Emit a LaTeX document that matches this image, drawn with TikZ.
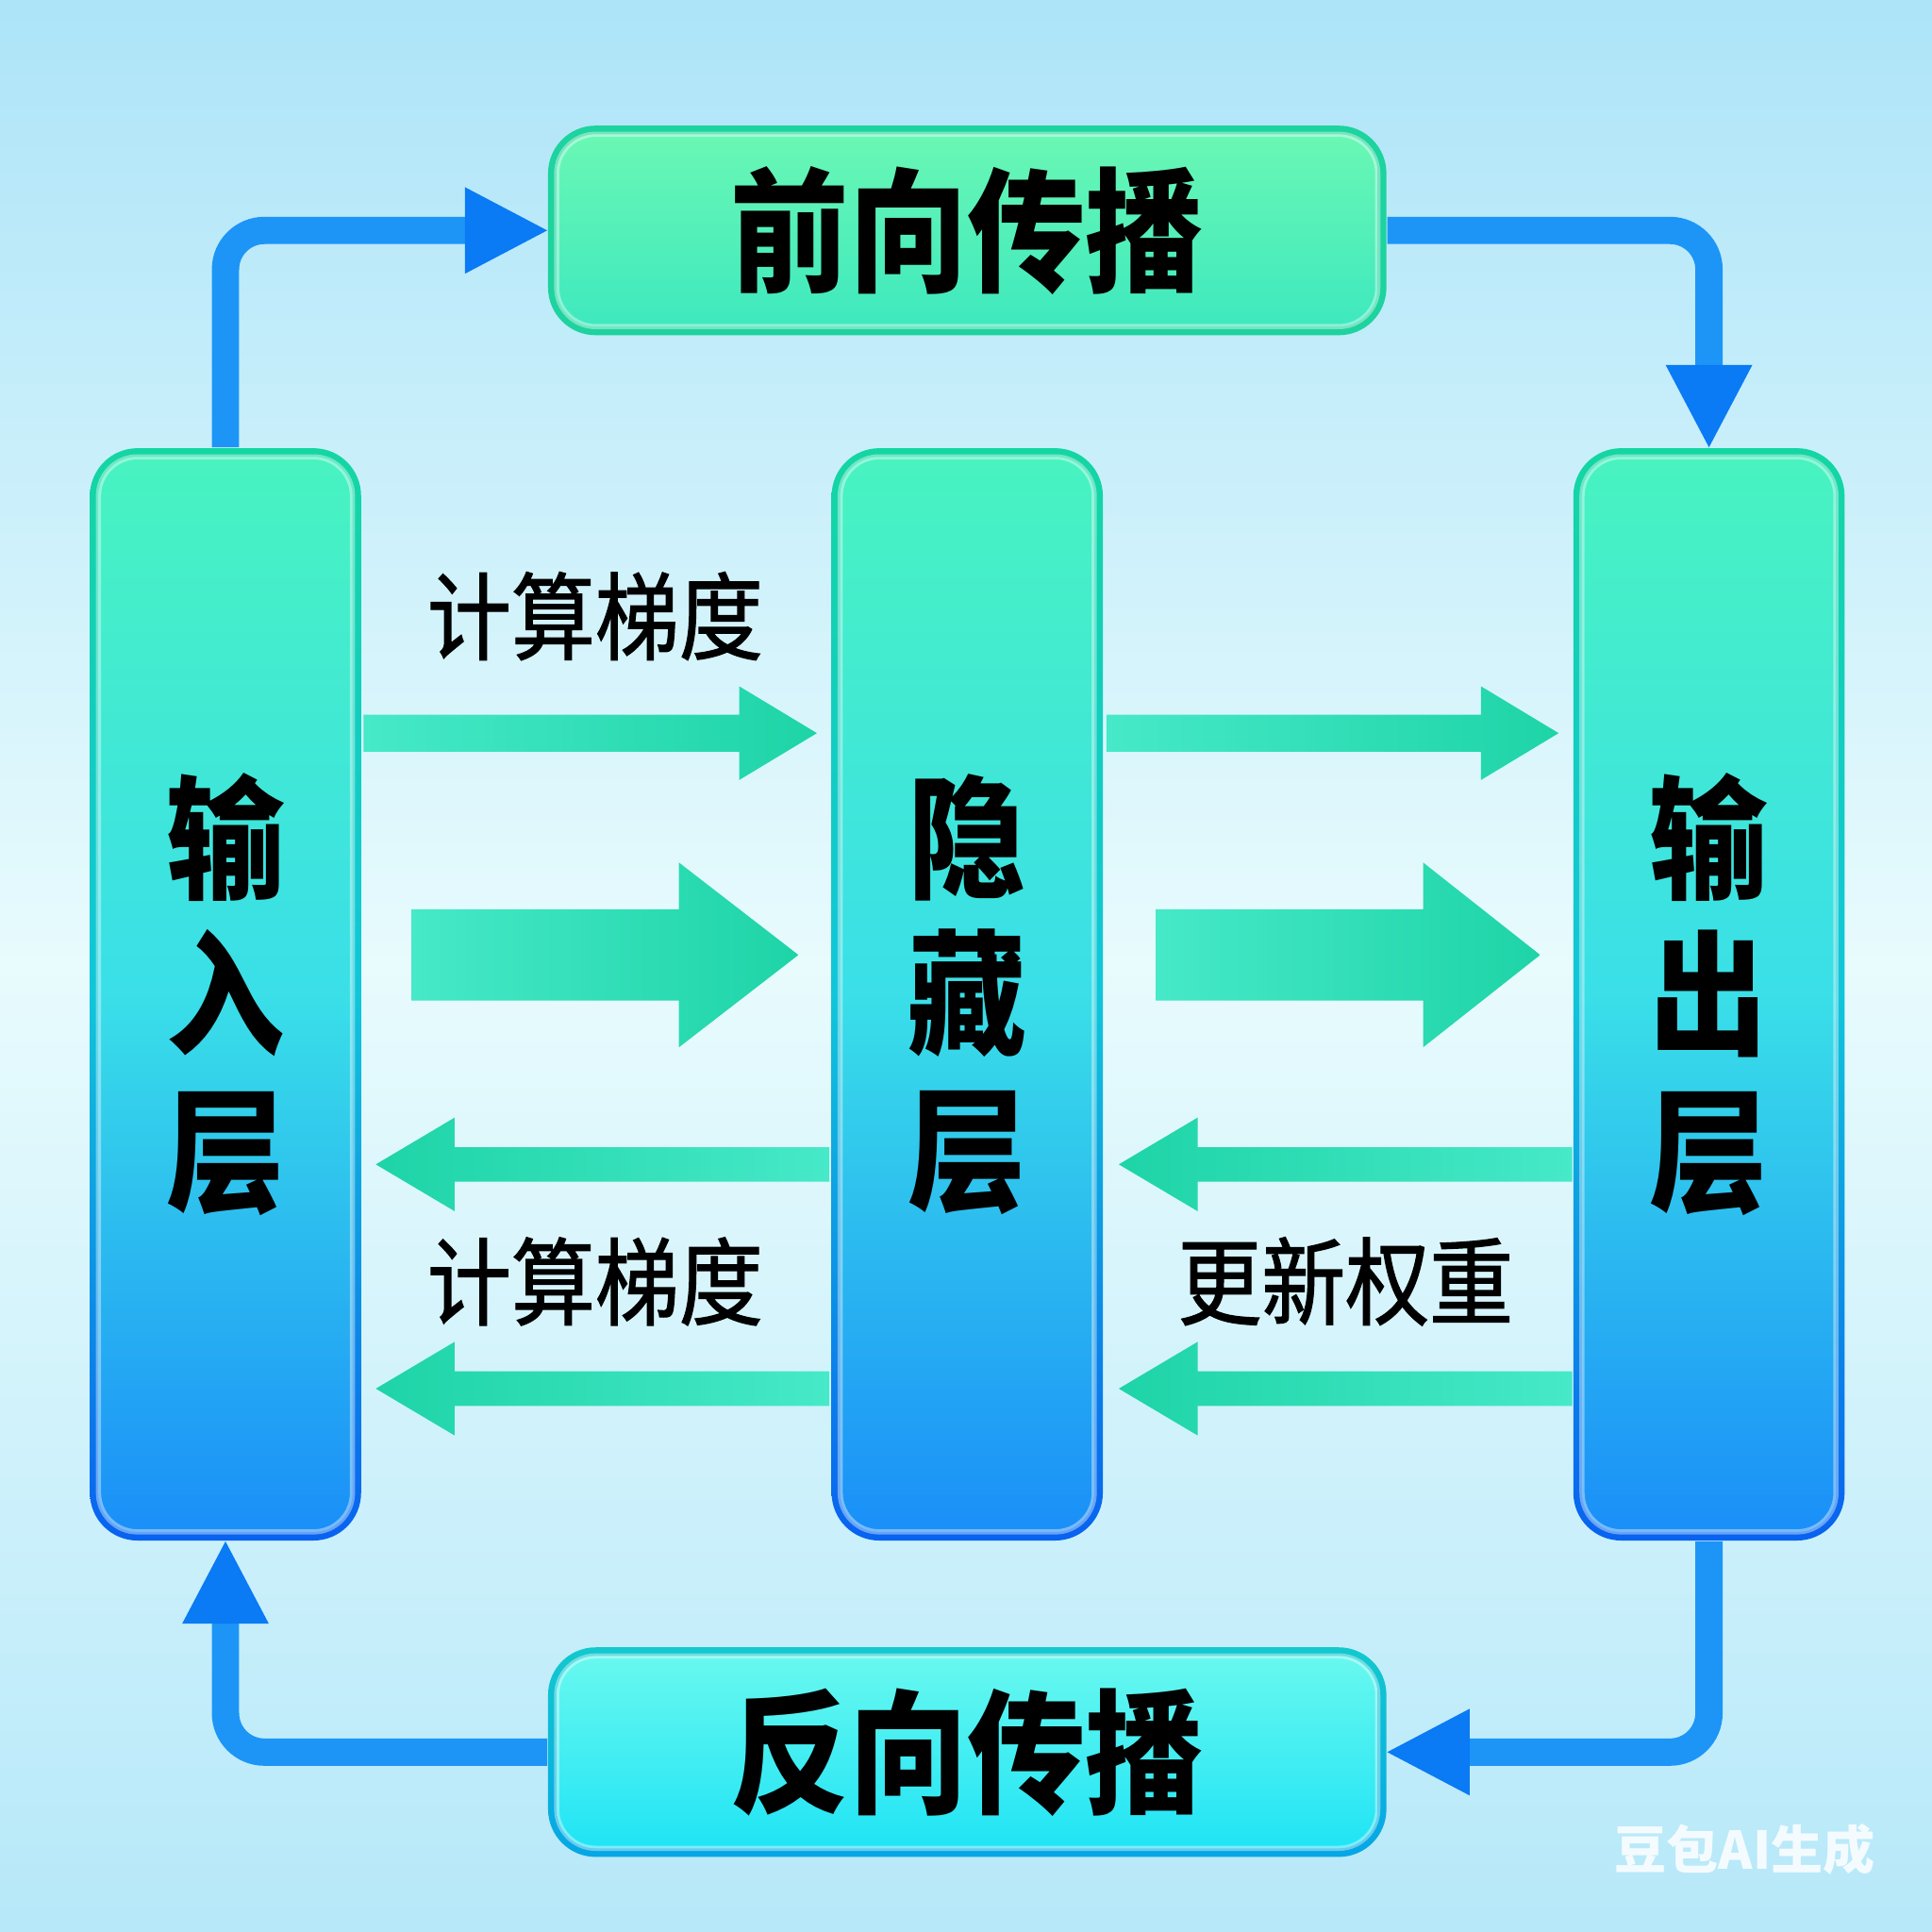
\documentclass[tikz,border=0pt]{standalone}
\usepackage{fontspec}
\newfontfamily\cjk{Noto Sans CJK SC}[FakeStretch=0.88]
\newfontfamily\cjkm{Noto Sans CJK SC}[FakeStretch=0.88, FakeBold=1.2]
\newfontfamily\cjkw{Noto Sans CJK SC}
\usetikzlibrary{arrows.meta}
\definecolor{bgT}{HTML}{ADE4F8}
\definecolor{bgM}{HTML}{E8FBFD}
\definecolor{bgB}{HTML}{B6E8F9}
\definecolor{cbT}{HTML}{14D6A2}
\definecolor{cbM}{HTML}{10C6DA}
\definecolor{cbB}{HTML}{0862F0}
\definecolor{cfT}{HTML}{48F3C0}
\definecolor{cfM}{HTML}{3ADFE8}
\definecolor{cfB}{HTML}{1A8FF8}
\definecolor{tbB}{HTML}{1DD39E}
\definecolor{tfT}{HTML}{6AF7B5}
\definecolor{tfB}{HTML}{3EE9BE}
\definecolor{bbT}{HTML}{12C9CE}
\definecolor{bbB}{HTML}{05A6E6}
\definecolor{bfT}{HTML}{68F8EF}
\definecolor{bfB}{HTML}{20E4F5}
\definecolor{conBlue}{HTML}{1C95F7}
\definecolor{tipBlue}{HTML}{0A7AF5}
\definecolor{gL}{HTML}{46E9C8}
\definecolor{gR}{HTML}{1ED4A7}
\newcommand\rarr[8]{%
  \shade[left color=#7, right color=#8]
    (#1,#3-#4) -- (#2-#6,#3-#4) -- (#2-#6,#3-#5) -- (#2,#3) --
    (#2-#6,#3+#5) -- (#2-#6,#3+#4) -- (#1,#3+#4) -- cycle;}
\newcommand\larr[8]{%
  \shade[left color=#7, right color=#8]
    (#1,#3-#4) -- (#2+#6,#3-#4) -- (#2+#6,#3-#5) -- (#2,#3) --
    (#2+#6,#3+#5) -- (#2+#6,#3+#4) -- (#1,#3+#4) -- cycle;}
\tikzset{
  colborder/.style={rounded corners=11pt, top color=cbT, bottom color=cbB, middle color=cbM,
    minimum width=2.2cm, minimum height=8.86cm, inner sep=0pt},
  colfill/.style={rounded corners=9pt, top color=cfT, bottom color=cfB, middle color=cfM,
    minimum width=2.06cm, minimum height=8.72cm, inner sep=0pt,
    draw=white, draw opacity=0.4, line width=1.2pt,
    align=center, font=\cjk\bfseries\fontsize{31}{36}\selectfont, text=black},
  topborder/.style={rounded corners=11pt, fill=tbB,
    minimum width=6.8cm, minimum height=1.7cm, inner sep=0pt},
  topfill/.style={rounded corners=9pt, top color=tfT, bottom color=tfB,
    minimum width=6.66cm, minimum height=1.56cm, inner sep=0pt,
    draw=white, draw opacity=0.4, line width=1.2pt,
    font=\cjk\bfseries\fontsize{31}{36}\selectfont, text=black},
  botborder/.style={rounded corners=11pt, top color=bbT, bottom color=bbB,
    minimum width=6.8cm, minimum height=1.7cm, inner sep=0pt},
  botfill/.style={rounded corners=9pt, top color=bfT, bottom color=bfB,
    minimum width=6.66cm, minimum height=1.56cm, inner sep=0pt,
    draw=white, draw opacity=0.4, line width=1.2pt,
    font=\cjk\bfseries\fontsize{31}{36}\selectfont, text=black},
  lbl/.style={font=\cjkm\fontsize{22}{26}\selectfont, text=black, inner sep=0pt},
  bluecon/.style={draw=conBlue, line width=6.3pt, rounded corners=9pt,
    -{Triangle[length=19pt, width=20pt, color=tipBlue, line width=0pt]}},
}
\begin{document}
\begin{tikzpicture}[x=0.01cm, y=-0.01cm]
\useasboundingbox (0,0) rectangle (1568,1568);
\shade[top color=bgT, bottom color=bgB, middle color=bgM] (0,0) rectangle (1568,1568);

% columns
\node[colborder] (inB) at (183,807) {};
\node[colfill] (in) at (183,807) {输\\入\\层};
\node[colborder] (hidB) at (785,807) {};
\node[colfill] (hid) at (785,807) {隐\\藏\\层};
\node[colborder] (outB) at (1387,807) {};
\node[colfill] (out) at (1387,807) {输\\出\\层};

% top / bottom boxes
\node[topborder] (fwdB) at (785,187) {};
\node[topfill] (fwd) at (785,187) {前向传播};
\node[botborder] (bwdB) at (785,1422) {};
\node[botfill] (bwd) at (785,1422) {反向传播};

% blue connectors
\draw[bluecon] (inB.north) |- (fwdB.west);
\draw[bluecon] (fwdB.east) -| (outB.north);
\draw[bluecon] (outB.south) |- (bwdB.east);
\draw[bluecon] (bwdB.west) -| (inB.south);

% forward green arrows
\rarr{295}{663}{595}{15}{38}{63}{gL}{gR}
\rarr{898}{1265}{595}{15}{38}{63}{gL}{gR}
\rarr{334}{648}{775}{37}{75}{97}{gL}{gR}
\rarr{938}{1250}{775}{37}{75}{95}{gL}{gR}

% backward green arrows
\larr{673}{305}{945}{14}{38}{64}{gR}{gL}
\larr{1276}{908}{945}{14}{38}{64}{gR}{gL}
\larr{673}{305}{1127}{14}{38}{64}{gR}{gL}
\larr{1276}{908}{1127}{14}{38}{64}{gR}{gL}

% labels
\node[lbl] (l1) at (483,500) {计算梯度};
\node[lbl] (l2) at (483,1040) {计算梯度};
\node[lbl] (l3) at (1092,1040) {更新权重};

% watermark
\node[font=\cjkw\bfseries\fontsize{12}{14}\selectfont, text=white, text opacity=0.85, inner sep=0pt] (wm) at (1416,1501) {豆包AI生成};
\end{tikzpicture}
\end{document}
